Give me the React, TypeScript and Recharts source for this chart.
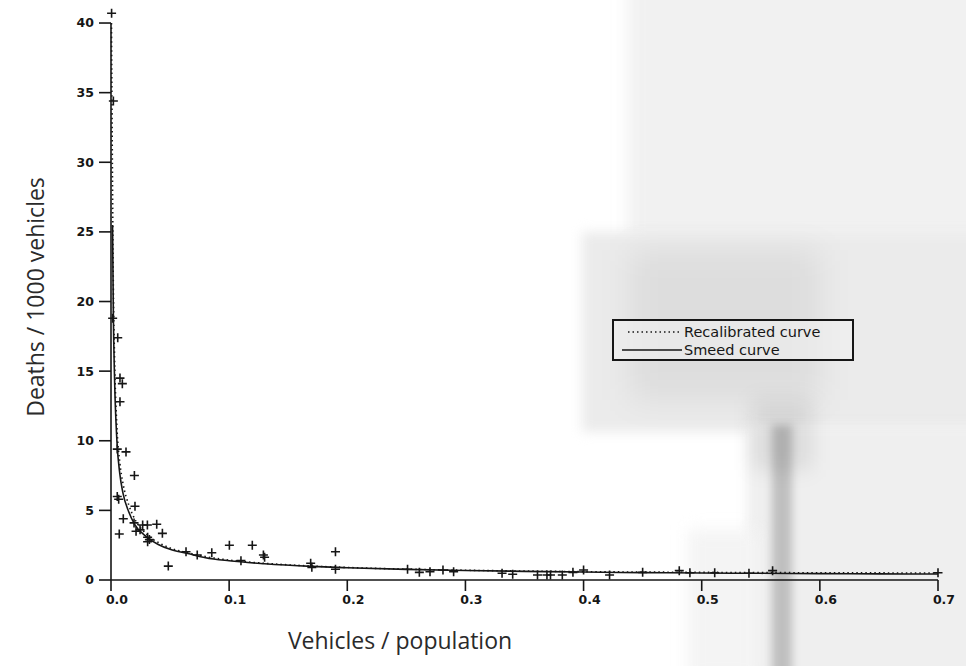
import React from 'react';
import { ComposedChart, Scatter, Line, XAxis, YAxis, ReferenceLine, Legend, Label } from 'recharts';

const xTicks = [0, 0.1, 0.2, 0.3, 0.4, 0.5, 0.6, 0.7];
const yTicks = [0, 5, 10, 15, 20, 25, 30, 35, 40];

// Observed countries: vehicles/population vs deaths/1000 vehicles
const obsX = [0.0005, 0.002, 0.0014, 0.0057, 0.0076, 0.0096, 0.0076, 0.0053, 0.0127, 0.0198, 0.0053, 0.0065, 0.0203, 0.0104, 0.007, 0.0195, 0.0212, 0.0246, 0.0268, 0.0308, 0.031, 0.031, 0.0325, 0.0387, 0.0435, 0.0485, 0.0635, 0.073, 0.0853, 0.1002, 0.1196, 0.11, 0.129, 0.13, 0.169, 0.17, 0.19, 0.19, 0.251, 0.261, 0.27, 0.281, 0.29, 0.331, 0.34, 0.361, 0.369, 0.372, 0.382, 0.391, 0.4, 0.422, 0.45, 0.481, 0.49, 0.511, 0.54, 0.56, 0.7];
const obsY = [40.7, 34.4, 18.8, 17.4, 14.5, 14.1, 12.8, 9.4, 9.2, 7.5, 6.0, 5.8, 5.3, 4.4, 3.3, 4.1, 3.5, 3.6, 3.95, 3.95, 3.07, 2.75, 2.9, 4.0, 3.35, 1.0, 2.03, 1.8, 1.96, 2.5, 2.5, 1.39, 1.8, 1.63, 1.2, 0.91, 2.03, 0.77, 0.77, 0.55, 0.6, 0.72, 0.6, 0.48, 0.41, 0.36, 0.36, 0.36, 0.36, 0.55, 0.72, 0.36, 0.55, 0.67, 0.52, 0.52, 0.48, 0.67, 0.52];

// Smeed curve (solid)
const smeedX = [0.0013, 0.002, 0.003, 0.005, 0.0075, 0.01, 0.015, 0.02, 0.03, 0.04, 0.05, 0.065, 0.08, 0.1, 0.13, 0.17, 0.2, 0.25, 0.3, 0.35, 0.4, 0.45, 0.5, 0.55, 0.6, 0.65, 0.7];
const smeedY = [25.5, 19, 14.5, 10, 7.6, 6.3, 4.9, 4.0, 3.1, 2.55, 2.2, 1.9, 1.6, 1.38, 1.17, 0.98, 0.88, 0.76, 0.68, 0.62, 0.57, 0.53, 0.5, 0.48, 0.46, 0.44, 0.43];

// Recalibrated curve (dotted)
const recalX = [0.0004, 0.001, 0.002, 0.003, 0.005, 0.0075, 0.01, 0.015, 0.02, 0.03, 0.04, 0.05, 0.065, 0.08, 0.1, 0.13, 0.17, 0.2, 0.25, 0.3, 0.4, 0.5, 0.6, 0.7];
const recalY = [40, 32, 21, 16, 11, 8.4, 7.0, 5.4, 4.4, 3.3, 2.7, 2.3, 1.95, 1.68, 1.43, 1.2, 1.0, 0.9, 0.78, 0.7, 0.6, 0.55, 0.52, 0.5];

const observed = obsX.map((x, i) => ({ x, y: obsY[i] }));
const smeed = smeedX.map((x, i) => ({ x, y: smeedY[i] }));
const recal = recalX.map((x, i) => ({ x, y: recalY[i] }));

const INK = '#161616';

const PlusShape = (props: any) => {
  const { cx, cy } = props;
  if (cx == null || cy == null) return null;
  return <path d={`M${cx - 4.5},${cy}h9M${cx},${cy - 4.5}v9`} stroke={INK} strokeWidth={1.6} fill="none" />;
};

const YTitle = (props: any) => {
  const vb = props.viewBox || { x: 0, y: 2, width: 111, height: 578 };
  const x = vb.x + 35;
  const y = vb.y + vb.height / 2 + 6;
  return (
    <text x={x} y={y} transform={`rotate(-90 ${x} ${y})`} textAnchor="middle" dominantBaseline="central"
      style={{ fontFamily: '"Open Sans", sans-serif', fontSize: 23, fill: '#2a2a2a' }}>
      Deaths / 1000 vehicles
    </text>
  );
};

const XTitle = (props: any) => {
  const vb = props.viewBox || { x: 111, y: 580, width: 827, height: 60 };
  const x = vb.x + 289;
  const y = vb.y + 60;
  return (
    <text x={x} y={y} textAnchor="middle" dominantBaseline="central"
      style={{ fontFamily: '"Open Sans", sans-serif', fontSize: 23, fill: '#2a2a2a' }}>
      Vehicles / population
    </text>
  );
};

const LegendBox = () => (
  <div style={{ width: 242, height: 42, border: `2px solid ${INK}`, boxSizing: 'border-box', fontFamily: '"DejaVu Sans", sans-serif', fontSize: 14.5, color: INK, paddingTop: 2, background: 'rgba(240,240,240,0.6)' }}>
    <div style={{ display: 'flex', alignItems: 'center', height: 18 }}>
      <svg width={70} height={6}>
        <line x1={14} y1={3} x2={68} y2={3} stroke={INK} strokeWidth={1.6} strokeDasharray="1.5 3" />
      </svg>
      <span>Recalibrated curve</span>
    </div>
    <div style={{ display: 'flex', alignItems: 'center', height: 18 }}>
      <svg width={70} height={6}>
        <line x1={8} y1={3} x2={68} y2={3} stroke={INK} strokeWidth={1.6} />
      </svg>
      <span>Smeed curve</span>
    </div>
  </div>
);

const tickStyle = { fontFamily: '"DejaVu Sans", sans-serif', fontSize: 12.5, fontWeight: 700, fill: INK };

const blob = (left: number, top: number, width: number, height: number, bg: string, blur: number): React.CSSProperties => ({
  position: 'absolute', left, top, width, height, background: bg, filter: `blur(${blur}px)`,
});

export default function App() {
  return (
    <div style={{ position: 'absolute', left: 0, top: 0, width: 966, height: 666, overflow: 'hidden', background: '#ffffff' }}>
      <div style={blob(628, -20, 360, 260, '#f1f1f1', 8)} />
      <div style={blob(582, 232, 400, 200, '#ebebeb', 6)} />
      <div style={blob(630, 250, 190, 150, 'rgba(0,0,0,0.06)', 16)} />
      <div style={blob(747, 425, 240, 260, '#efefef', 6)} />
      <div style={blob(688, 530, 70, 150, '#f4f4f4', 8)} />
      <div style={blob(752, 400, 60, 70, 'rgba(0,0,0,0.08)', 10)} />
      <div style={blob(772, 425, 20, 260, 'rgba(0,0,0,0.2)', 4)} />
      <div style={{ position: 'absolute', left: 0, top: 0 }}>
        <ComposedChart width={966} height={666} margin={{ top: 2, right: 28, bottom: 26, left: 0 }}>
          <XAxis type="number" dataKey="x" domain={[0, 0.7]} ticks={xTicks} tickFormatter={(v: number) => v.toFixed(1)}
            height={60} tickSize={11} tickMargin={4} axisLine={{ stroke: INK, strokeWidth: 1.6 }}
            tickLine={{ stroke: INK, strokeWidth: 1.6 }} tick={{ ...tickStyle, dx: 6 }} interval={0}>
            <Label content={<XTitle />} />
          </XAxis>
          <YAxis type="number" dataKey="y" domain={[0, 41.51]} ticks={yTicks} width={111} tickSize={12} tickMargin={5}
            axisLine={false} tickLine={{ stroke: INK, strokeWidth: 1.6 }} tick={tickStyle} interval={0}>
            <Label content={<YTitle />} />
          </YAxis>
          <ReferenceLine segment={[{ x: 0, y: 0 }, { x: 0, y: 40 }]} stroke={INK} strokeWidth={1.6} ifOverflow="visible" />
          <Line data={recal} dataKey="y" type="monotone" dot={false} stroke={INK} strokeWidth={1.6} strokeDasharray="1.5 3" isAnimationActive={false} legendType="none" />
          <Line data={smeed} dataKey="y" type="monotone" dot={false} stroke={INK} strokeWidth={1.6} isAnimationActive={false} legendType="none" />
          <Scatter data={observed} dataKey="y" shape={<PlusShape />} isAnimationActive={false} legendType="none" />
          <Legend layout="horizontal" verticalAlign="middle" align="center" content={<LegendBox />}
            wrapperStyle={{ position: 'absolute', left: 612, top: 319, width: 242, height: 42 }} />
        </ComposedChart>
      </div>
    </div>
  );
}
